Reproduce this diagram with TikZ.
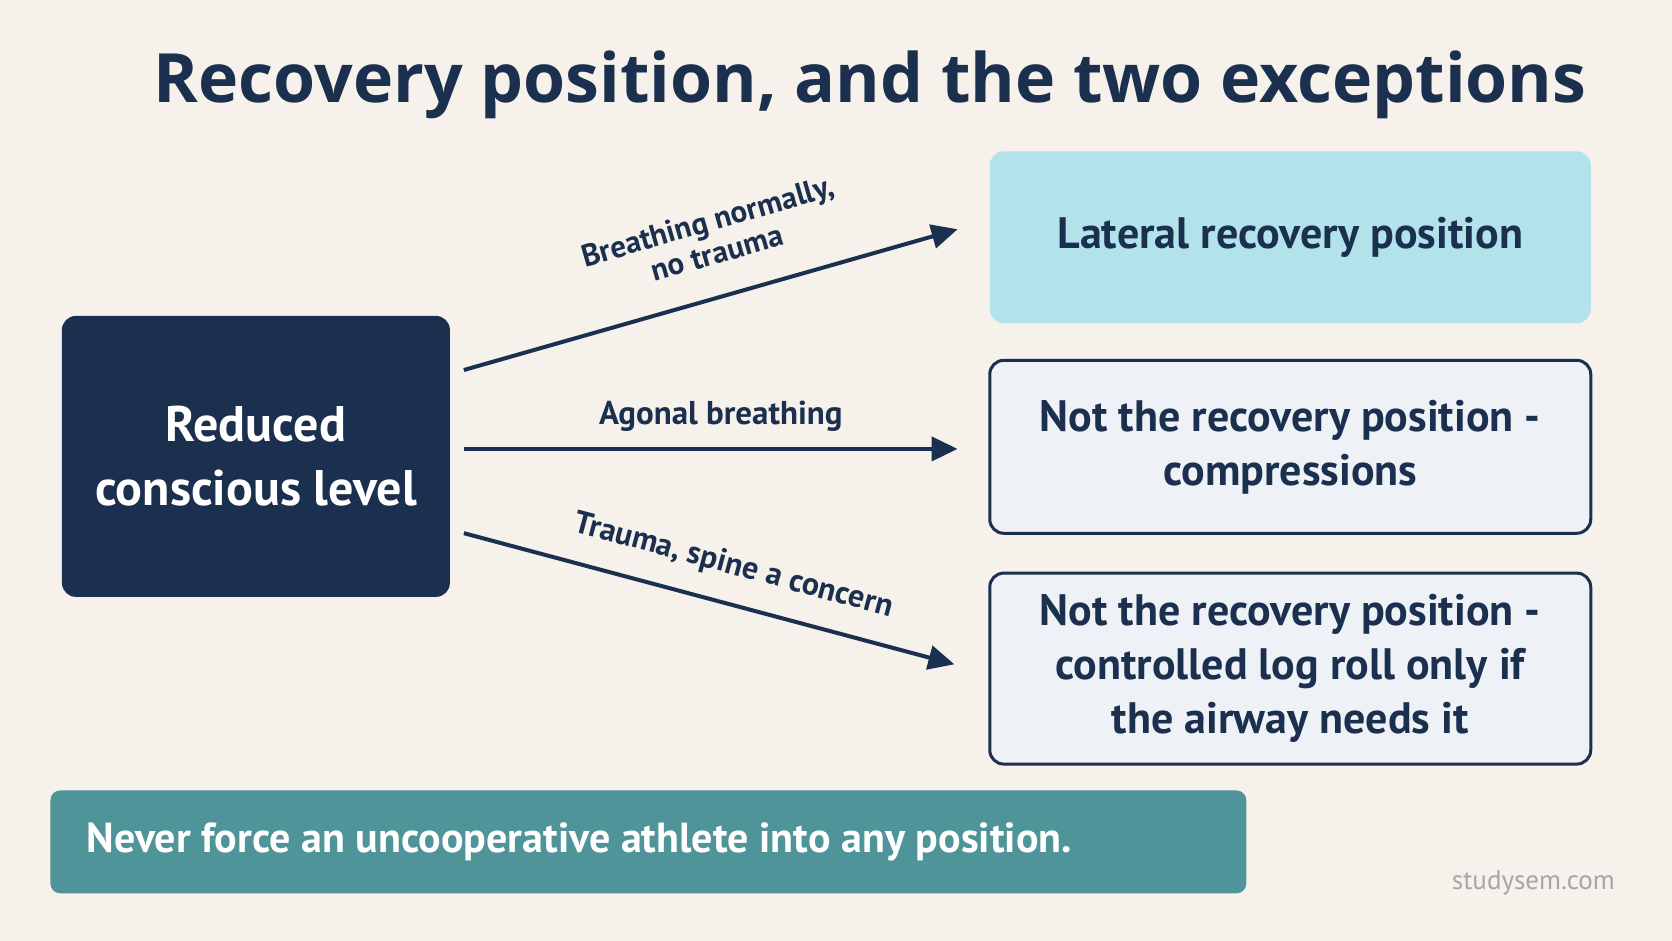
\documentclass[tikz,border=0pt]{standalone}
\usepackage{fontspec}
\setmainfont{PT Sans}
\newfontfamily\titlefont{Open Sans}
\usetikzlibrary{arrows.meta}
\definecolor{bg}{HTML}{F6F2EB}
\definecolor{navy}{HTML}{1B2F4E}
\definecolor{cyanbox}{HTML}{B3E3EA}
\definecolor{pale}{HTML}{EEF1F5}
\definecolor{teal}{HTML}{4E9499}
\begin{document}
\begin{tikzpicture}[x=1.0664pt,y=-1.0664pt,
  box/.style={rounded corners=14pt,font=\fontsize{44}{54}\selectfont\bfseries,text=navy,align=center},
  arr/.style={navy,line width=4pt,-{Triangle[length=26pt,width=24pt]}},
  lab/.style={font=\fontsize{31}{31}\selectfont\bfseries,text=navy,align=center}]
\fill[bg] (0,0) rectangle (1568,882.4);
\node[font=\titlefont\fontsize{68}{70}\selectfont\bfseries,text=navy] (title) at (816,80) {Recovery position, and the two exceptions};
\node[box,fill=navy,text=white,minimum width=388pt,minimum height=281pt,font=\fontsize{50}{64}\selectfont\bfseries] (src) at (240,428) {Reduced\\conscious level};
\node[box,fill=cyanbox,minimum width=601pt,minimum height=172pt] (a) at (1210,222.5) {Lateral recovery position};
\node[box,fill=pale,draw=navy,line width=3pt,minimum width=601pt,minimum height=173pt] (b) at (1210,419) {Not the recovery position -\\compressions};
\node[box,fill=pale,draw=navy,line width=3pt,minimum width=601pt,minimum height=191pt] (c) at (1210,627) {Not the recovery position -\\controlled log roll only if\\the airway needs it};
\node[rounded corners=10pt,fill=teal,minimum width=1196pt,minimum height=103pt] (ban) at (608,789.5) {};
\node[anchor=west,font=\fontsize{42}{42}\selectfont\bfseries,text=white] (bantext) at (78,789.5) {Never force an uncooperative athlete into any position.};
\node[font=\fontsize{27}{27}\selectfont,text=gray!70] (web) at (1438,828) {studysem.com};
\coordinate (s1) at (435,347); \coordinate (e1) at (898,215);
\coordinate (s2) at (435,421); \coordinate (e2) at (898,421);
\coordinate (s3) at (435,500); \coordinate (e3) at (895,623);
\draw[arr] (s1) -- (e1);
\draw[arr] (s2) -- (e2);
\draw[arr] (s3) -- (e3);
\node[lab,rotate=16,font=\fontsize{31}{33}\selectfont\bfseries] (l1) at (668,222) {Breathing normally,\\no trauma};
\node[lab,font=\fontsize{33}{33}\selectfont\bfseries] (l2) at (676,390) {Agonal breathing};
\node[lab,rotate=-15,font=\fontsize{32}{32}\selectfont\bfseries] (l3) at (688,531) {Trauma, spine a concern};
\end{tikzpicture}
\end{document}
